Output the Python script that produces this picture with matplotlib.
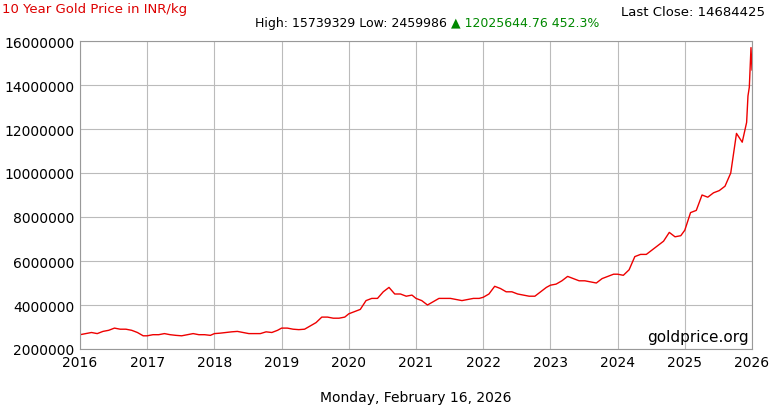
import matplotlib
matplotlib.use("Agg")
import matplotlib.pyplot as plt
import numpy as np

vals_2016 = [2.65,2.7,2.75,2.7,2.8,2.85,2.95,2.9,2.9,2.85,2.75,2.6]
vals_2017 = [2.6,2.65,2.65,2.7,2.65,2.62,2.6,2.65,2.7,2.65,2.65,2.62]
vals_2018 = [2.7,2.72,2.75,2.78,2.8,2.75,2.7,2.7,2.7,2.78,2.75,2.85]
vals_2019 = [2.95,2.95,2.9,2.88,2.9,3.05,3.2,3.45,3.45,3.4,3.4,3.45]
vals_2020 = [3.6,3.7,3.8,4.2,4.3,4.3,4.6,4.8,4.5,4.5,4.4,4.45]
vals_2021 = [4.3,4.2,4.0,4.15,4.3,4.3,4.3,4.25,4.2,4.25,4.3,4.3]
vals_2022 = [4.35,4.5,4.85,4.75,4.6,4.6,4.5,4.45,4.4,4.4,4.6,4.8]
vals_2023 = [4.9,4.95,5.1,5.3,5.2,5.1,5.1,5.05,5.0,5.2,5.3,5.4]
vals_2024 = [5.4,5.35,5.6,6.2,6.3,6.3,6.5,6.7,6.9,7.3,7.1,7.15]
vals_2025 = [7.4,8.2,8.3,9.0,8.9,9.1,9.2,9.4,10.0,11.8,11.4,12.3]
tail_t = [2025.94, 2025.96, 2025.985, 2026.0]
tail_v = [13.5, 13.9, 15.7, 14.684425]

yearly = [vals_2016, vals_2017, vals_2018, vals_2019, vals_2020,
          vals_2021, vals_2022, vals_2023, vals_2024, vals_2025]
t, v = [], []
for i, ys in enumerate(yearly):
    for m, y in enumerate(ys):
        t.append(2016 + i + m / 12 * 0.94 / (11/12))
        v.append(y * 1e6)
t[-1] = 2025.92
t += tail_t
v += [x * 1e6 for x in tail_v]

fig = plt.figure(figsize=(7.7, 4.1), dpi=100)
ax = fig.add_axes([80/770, 60/410, 672/770, 308/410])
ax.plot(t, v, color="#ee0000", lw=1)
ax.set_xlim(2016, 2026)
ax.set_ylim(2000000, 16000000)
ax.set_xticks(range(2016, 2027))
ax.set_yticks(range(2000000, 16000001, 2000000))
ax.yaxis.set_major_formatter(matplotlib.ticker.FuncFormatter(lambda x, p: f"{int(x)}"))
ax.grid(True, color="#bbbbbb", lw=0.8)
ax.tick_params(labelsize=10, length=0, pad=4)
for s in ax.spines.values():
    s.set_color("#999999")
ax.text(0.995, 0.015, "goldprice.org", transform=ax.transAxes, ha="right", va="bottom", fontsize=11)
fig.text(2/770, 1-10/410, "10 Year Gold Price in INR/kg", color="#dd0000", fontsize=9.5, va="center")
fig.text(765/770, 1-12/410, "Last Close: 14684425", fontsize=9.5, ha="right", va="center")
t1 = fig.text(255/770, 1-23/410, "High: 15739329 Low: 2459986 ", fontsize=9, va="center")
fig.canvas.draw()
ax.annotate("▲ 12025644.76 452.3%", xy=(1, 0.5), xycoords=t1, va="center",
            fontsize=9, color="#008800", annotation_clip=False)
fig.text(416/770, 1-398/410, "Monday, February 16, 2026", fontsize=10, ha="center", va="center")
fig.savefig("out.png")
